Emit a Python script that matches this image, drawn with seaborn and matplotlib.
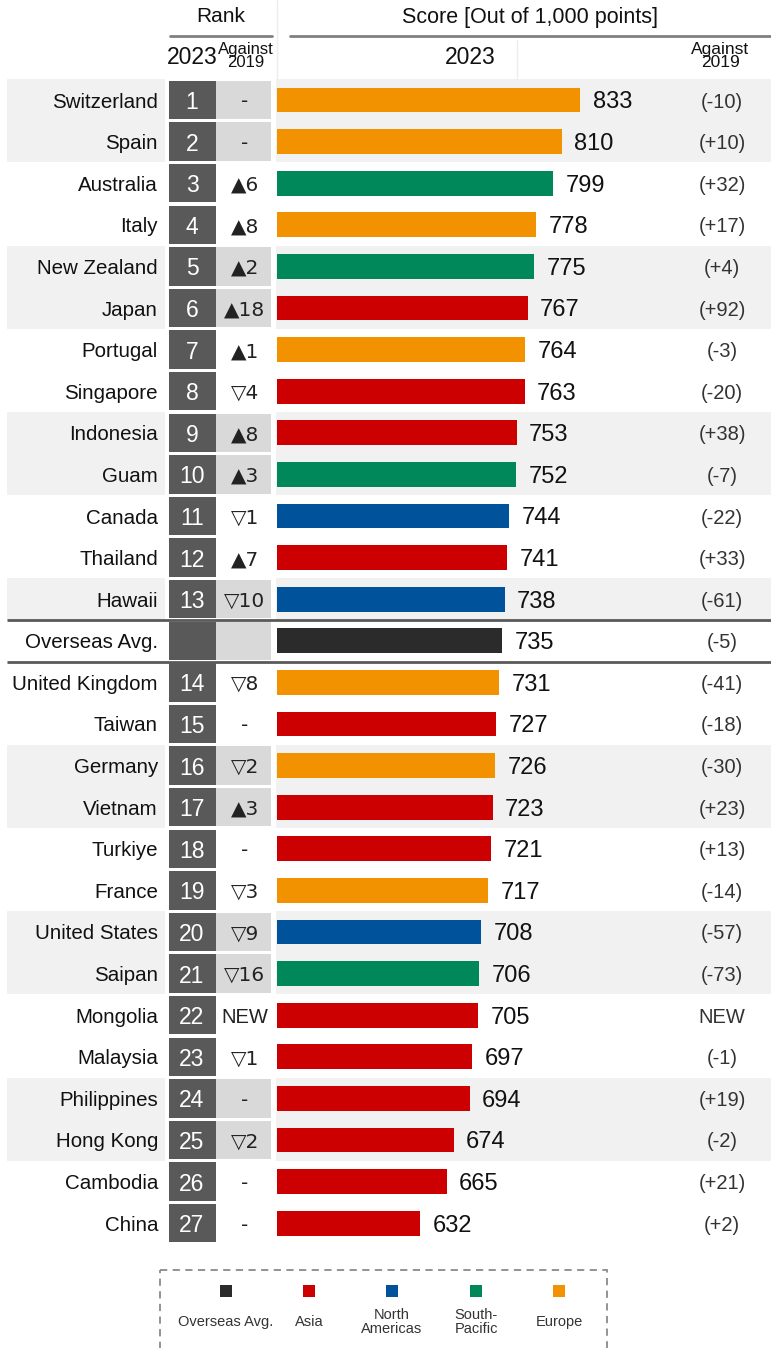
import matplotlib
matplotlib.use("Agg")
import matplotlib.pyplot as plt
import seaborn as sns
import pandas as pd
from matplotlib import font_manager
from matplotlib.patches import Rectangle

# ---------------- data ----------------
countries = ["Switzerland", "Spain", "Australia", "Italy", "New Zealand", "Japan",
             "Portugal", "Singapore", "Indonesia", "Guam", "Canada", "Thailand",
             "Hawaii", "Overseas Avg.", "United Kingdom", "Taiwan", "Germany",
             "Vietnam", "Turkiye", "France", "United States", "Saipan", "Mongolia",
             "Malaysia", "Philippines", "Hong Kong", "Cambodia", "China"]
ranks = [1, 2, 3, 4, 5, 6, 7, 8, 9, 10, 11, 12, 13, None, 14, 15, 16, 17, 18,
         19, 20, 21, 22, 23, 24, 25, 26, 27]
rank_change = ["-", "-", "▲6", "▲8", "▲2", "▲18", "▲1", "▽4", "▲8", "▲3", "▽1",
               "▲7", "▽10", "", "▽8", "-", "▽2", "▲3", "-", "▽3", "▽9", "▽16",
               "NEW", "▽1", "-", "▽2", "-", "-"]
scores = [833, 810, 799, 778, 775, 767, 764, 763, 753, 752, 744, 741, 738, 735,
          731, 727, 726, 723, 721, 717, 708, 706, 705, 697, 694, 674, 665, 632]
score_change = ["(-10)", "(+10)", "(+32)", "(+17)", "(+4)", "(+92)", "(-3)",
                "(-20)", "(+38)", "(-7)", "(-22)", "(+33)", "(-61)", "(-5)",
                "(-41)", "(-18)", "(-30)", "(+23)", "(+13)", "(-14)", "(-57)",
                "(-73)", "NEW", "(-1)", "(+19)", "(-2)", "(+21)", "(+2)"]
regions = ["Europe", "Europe", "South-Pacific", "Europe", "South-Pacific", "Asia",
           "Europe", "Asia", "Asia", "South-Pacific", "North Americas", "Asia",
           "North Americas", "Overseas Avg.", "Europe", "Asia", "Europe", "Asia",
           "Asia", "Europe", "North Americas", "South-Pacific", "Asia", "Asia",
           "Asia", "Asia", "Asia", "Asia"]

legend_regions = ["Overseas Avg.", "Asia", "North Americas", "South-Pacific", "Europe"]
legend_labels = ["Overseas Avg.", "Asia", "North\nAmericas", "South-\nPacific", "Europe"]

# ---------------- style ----------------
palette = {"Overseas Avg.": "#2b2b2b", "Asia": "#cc0000",
           "North Americas": "#00529b", "South-Pacific": "#00875a",
           "Europe": "#f39200"}
SHADE = "#f1f1f1"
DARK = "#595959"
LIGHT = "#d9d9d9"
TXT = "#111111"

sns.set_style("white")
avail = {f.name for f in font_manager.fontManager.ttflist}
NARROW = "Liberation Sans Narrow" if "Liberation Sans Narrow" in avail else "Liberation Sans"
plt.rcParams["font.family"] = [NARROW, "DejaVu Sans"]
NUM = ["Liberation Sans", "DejaVu Sans"]

W, H = 771, 1348
fig = plt.figure(figsize=(W / 100, H / 100), dpi=100)

row_top, row_bot = 79.2, 1244.0
rect_b = 1 - row_bot / H
rect_h = (row_bot - row_top) / H
n = len(countries)

# table axes in pixel-like x units
ax_t = fig.add_axes([0, rect_b, 1, rect_h], zorder=0)
ax_t.set_xlim(0, W)
ax_t.set_ylim(n - 0.5, -0.5)
ax_t.axis("off")

for i in range(n):
    r = ranks[i]
    if r is None:
        shaded = False
    elif r <= 13:
        shaded = ((r - 1) // 2) % 2 == 0
    else:
        shaded = (r // 2) % 2 == 0
    if shaded:
        ax_t.barh(i, 158, left=7, height=1.0, color=SHADE, lw=0)
        ax_t.barh(i, W - 276, left=276, height=1.0, color=SHADE, lw=0)
    ax_t.barh(i, 47, left=169, height=0.92, color=DARK, lw=0)
    if shaded or r is None:
        ax_t.barh(i, 55, left=216, height=0.92, color=LIGHT, lw=0)

    ax_t.text(158, i, countries[i], ha="right", va="center_baseline",
              fontsize=14.8, color=TXT)
    if r is not None:
        ax_t.text(192, i, str(r), ha="center", va="center_baseline",
                  fontsize=16.5, color="white", family=NUM)
    ax_t.text(245, i, rank_change[i], ha="center", va="center_baseline",
              fontsize=14.5, color="#222222",
              family=["DejaVu Sans"] if rank_change[i] != "NEW" else NUM)
    ax_t.text(722, i, score_change[i], ha="center", va="center_baseline",
              fontsize=14.5, color="#333333", family=NUM)

# separators around the overseas average
for yy in (12.5, 13.5):
    ax_t.plot([7, W], [yy, yy], color=DARK, lw=2, solid_capstyle="butt")

# bar axes
ax_b = fig.add_axes([277 / W, rect_b, (W - 277) / W, rect_h], zorder=1)
ax_b.patch.set_alpha(0)
df = pd.DataFrame({"country": countries, "score": scores, "region": regions})
sns.barplot(data=df, x="score", y="country", hue="region", palette=palette,
            order=countries, dodge=False, width=0.6, orient="h", saturation=1,
            errorbar=None, legend=False, linewidth=0, ax=ax_b)
ax_b.set_xlim(452, 452 + (W - 277) / 0.796)
ax_b.set_ylim(n - 0.5, -0.5)
ax_b.axis("off")
for i, v in enumerate(scores):
    ax_b.annotate(str(v), xy=(v, i), xytext=(9, 0), textcoords="offset points",
                  ha="left", va="center_baseline", fontsize=17, color=TXT,
                  family=NUM)

# overlay for header and legend, pixel coordinates
ov = fig.add_axes([0, 0, 1, 1], zorder=2)
ov.patch.set_alpha(0)
ov.set_xlim(0, W)
ov.set_ylim(H, 0)
ov.axis("off")

ov.plot([277, 277], [0, 79], color="#eeeeee", lw=1)
ov.plot([517, 517], [40, 79], color="#eeeeee", lw=1)
ov.text(221, 17, "Rank", ha="center", va="center", fontsize=15, color=TXT)
ov.plot([170, 272], [36, 36], color="#808080", lw=2)
ov.text(530, 17, "Score [Out of 1,000 points]", ha="center", va="center",
        fontsize=15.5, color=TXT)
ov.plot([290, W], [36, 36], color="#808080", lw=2)
ov.text(192, 58, "2023", ha="center", va="center", fontsize=16.5, color=TXT)
ov.text(246, 56, "Against\n2019", ha="center", va="center", fontsize=12,
        linespacing=0.85, color=TXT)
ov.text(470, 58, "2023", ha="center", va="center", fontsize=16.5, color=TXT)
ov.text(720, 56, "Against\n2019", ha="center", va="center", fontsize=12.5,
        linespacing=0.85, color=TXT)

# legend
ov.add_patch(Rectangle((160, 1270), 447, 120, fill=False, ec="#8a8a8a",
                       lw=1.3, ls=(0, (4, 3))))
leg_x = [226, 309, 392, 476, 559]
for x, reg, lab in zip(leg_x, legend_regions, legend_labels):
    ov.scatter([x], [1291], marker="s", s=80, color=palette[reg], lw=0)
    ov.text(x, 1322, lab, ha="center", va="center", fontsize=10.5,
            linespacing=1.0, color="#333333")

fig.savefig("out.png", dpi=100)
